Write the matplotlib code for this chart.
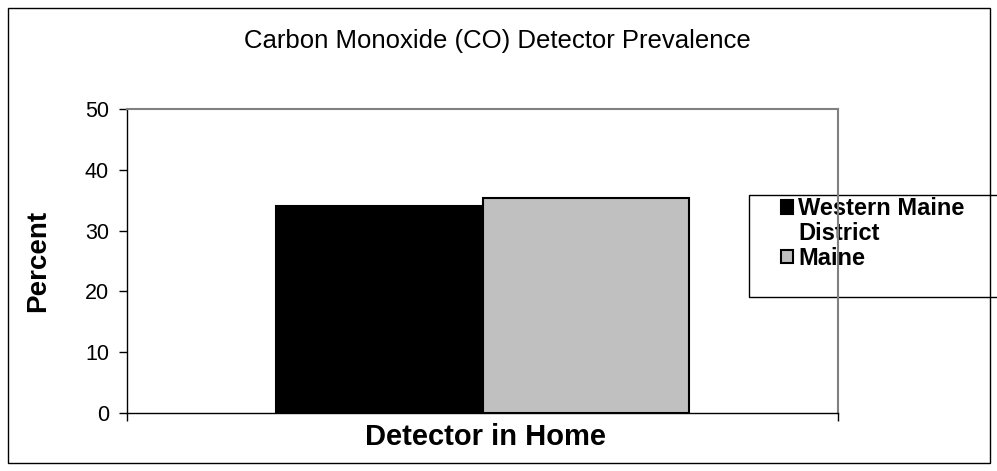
from matplotlib import pyplot as plt
from matplotlib.patches import Rectangle, Patch

categories = ['Detector in Home']
series_names = ['Western Maine District', 'Maine']
western_maine = [34.0]
maine = [35.4]
y_ticks = [0, 10, 20, 30, 40, 50]

plt.rcParams['font.family'] = ['Liberation Sans', 'DejaVu Sans']

fig = plt.figure(figsize=(9.97, 4.71), dpi=100)
ax = fig.add_axes([127 / 997, 1 - 413 / 471, (838 - 127) / 997, (413 - 109) / 471])
ax.set_facecolor('none')

width = 0.29
x = list(range(len(categories)))
b1 = ax.bar([i - width / 2 for i in x], western_maine, width, color='black', edgecolor='black',
            linewidth=1.5, label=series_names[0])
b2 = ax.bar([i + width / 2 for i in x], maine, width, color='#c0c0c0', edgecolor='black',
            linewidth=1.5, label=series_names[1])

ax.set_xlim(-0.5, 0.5)
ax.set_ylim(0, 50)
ax.set_yticks(y_ticks)
ax.set_xticks([-0.5, 0.5])
ax.set_xticklabels([])
ax.tick_params(axis='x', direction='out', length=6, width=1, colors='black')
ax.tick_params(axis='y', direction='out', length=6, width=1, labelsize=15.5, pad=7)
for s in ('top', 'right'):
    ax.spines[s].set_color('#808080')
    ax.spines[s].set_linewidth(1.5)
for s in ('left', 'bottom'):
    ax.spines[s].set_color('black')
    ax.spines[s].set_linewidth(1)

fig.text(497 / 997, 1 - 41 / 471, 'Carbon Monoxide (CO) Detector Prevalence', ha='center',
         va='center', fontsize=18.5)
fig.text(38 / 997, 1 - 261 / 471, 'Percent', rotation=90, ha='center', va='center',
         fontsize=20, fontweight='bold')
fig.text(485 / 997, 1 - 437 / 471, categories[0], ha='center', va='center',
         fontsize=21, fontweight='bold')

# legend box (runs off the right edge), below the axes spines
ax.add_patch(Rectangle((749 / 997, 1 - 297 / 471), 260 / 997, 102 / 471,
                       transform=fig.transFigure, facecolor='white', edgecolor='black',
                       linewidth=1, zorder=0.5, clip_on=False))
first, second = series_names[0].rsplit(' ', 1)
leg = ax.legend([b1, Patch(visible=False), b2], [first, second, series_names[1]],
                loc='upper left', bbox_to_anchor=(779 / 997, 1 - 195 / 471),
                bbox_transform=fig.transFigure, frameon=False, handlelength=0.5,
                handleheight=0.5, handletextpad=0.2, labelspacing=0.08,
                borderpad=0.1, borderaxespad=0,
                prop={'weight': 'bold', 'size': 17})
leg.set_zorder(1)

# outer border
fig.patches.append(Rectangle((8 / 997, 8 / 471), 982 / 997, 455 / 471,
                             transform=fig.transFigure, fill=False, edgecolor='black',
                             linewidth=1))

fig.savefig('out.png', dpi=100)
